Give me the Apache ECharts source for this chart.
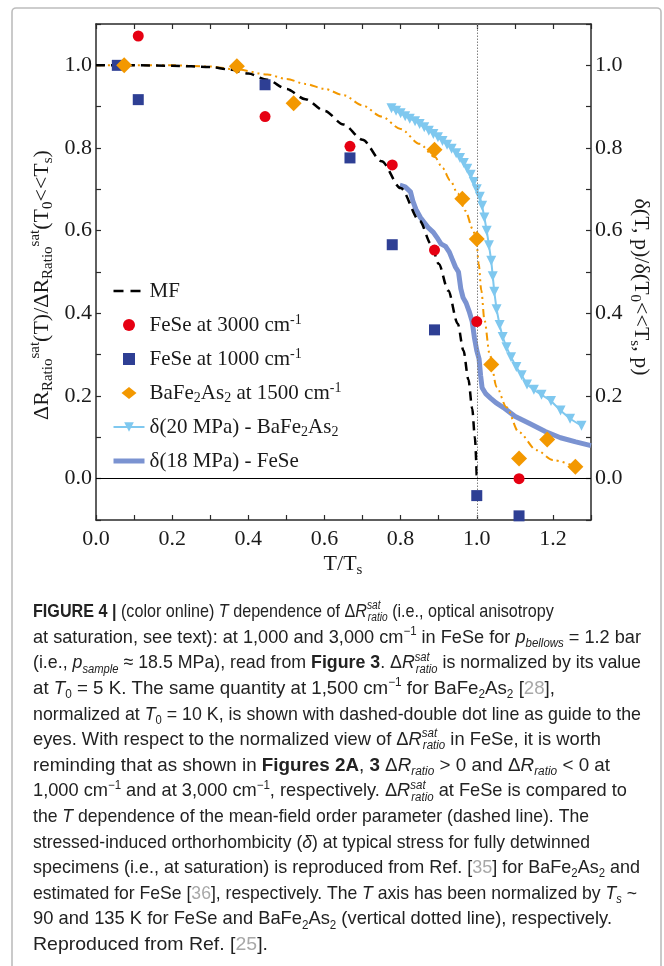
<!DOCTYPE html>
<html>
<head>
<meta charset="utf-8">
<script src="https://cdn.jsdelivr.net/npm/echarts@6/dist/echarts.min.js"></script>
<style>
  html, body { margin: 0; padding: 0; background: #fff; }
  #chart { width: 664px; height: 966px; }
</style>
</head>
<body>
<div id="chart"></div>
<script>
// ---- data (T/Ts on x, normalized quantities on y) ----
const xTickLabels = [0.0, 0.2, 0.4, 0.6, 0.8, 1.0, 1.2];
const yTickLabels = [0.0, 0.2, 0.4, 0.6, 0.8, 1.0];

// mean-field order parameter
const mfCurve = [[0,1.0],[0.1,1.0],[0.2,0.999],[0.3,0.996],[0.35,0.99],[0.4,0.98],[0.45,0.965],
  [0.5,0.943],[0.55,0.918],[0.6,0.89],[0.65,0.857],[0.7,0.82],[0.75,0.768],[0.8,0.703],
  [0.85,0.624],[0.88,0.568],[0.9,0.52],[0.925,0.455],[0.95,0.375],[0.965,0.31],[0.978,0.24],
  [0.988,0.17],[0.995,0.10],[1.0,0.0]];

const fese3000 = [[0.111,1.071],[0.444,0.876],[0.667,0.804],[0.778,0.759],[0.889,0.553],[1.0,0.38],[1.111,0.0]];
const fese1000 = [[0.056,1.0],[0.111,0.917],[0.444,0.953],[0.667,0.776],[0.778,0.566],[0.889,0.36],[1.0,-0.041],[1.111,-0.09]];
const bafe1500 = [[0.074,1.0],[0.37,0.998],[0.519,0.908],[0.889,0.796],[0.962,0.677],[1.0,0.58],[1.038,0.276],[1.111,0.049],[1.185,0.095],[1.259,0.029]];

// guide to the eye through the BaFe2As2 points
const bafeGuide = [[0,1.0],[0.1,1.0],[0.2,1.0],[0.3,0.997],[0.37,0.99],[0.45,0.978],[0.5,0.967],
  [0.55,0.955],[0.6,0.943],[0.65,0.928],[0.7,0.903],[0.75,0.876],[0.8,0.846],[0.85,0.81],
  [0.89,0.778],[0.91,0.752],[0.93,0.722],[0.95,0.69],[0.97,0.648],[0.99,0.603],[1.0,0.565],
  [1.005,0.52],[1.012,0.455],[1.02,0.385],[1.034,0.30],[1.052,0.222],[1.078,0.173],
  [1.11,0.113],[1.157,0.069],[1.2,0.045],[1.262,0.028]];

// orthorhombicity, BaFe2As2 at 20 MPa
const delta20Bafe = [[0.776,0.896],[0.788,0.890],[0.80,0.884],[0.812,0.877],[0.824,0.871],
  [0.838,0.865],[0.85,0.858],[0.862,0.850],[0.874,0.842],[0.886,0.834],[0.898,0.826],
  [0.91,0.817],[0.922,0.808],[0.934,0.798],[0.946,0.787],[0.956,0.776],[0.966,0.764],
  [0.975,0.750],[0.984,0.735],[0.992,0.718],[1.0,0.70],[1.008,0.682],[1.014,0.66],
  [1.02,0.632],[1.026,0.60],[1.032,0.565],[1.038,0.527],[1.042,0.49],[1.046,0.452],
  [1.052,0.41],[1.06,0.372],[1.068,0.343],[1.078,0.318],[1.09,0.294],[1.104,0.27],
  [1.118,0.25],[1.132,0.228],[1.15,0.215],[1.17,0.203],[1.195,0.188],[1.22,0.165],
  [1.245,0.145],[1.275,0.128]];

// orthorhombicity, FeSe at 18 MPa
const delta18Fese = [[0.798,0.71],[0.812,0.706],[0.826,0.694],[0.832,0.672],[0.84,0.652],
  [0.852,0.632],[0.862,0.62],[0.874,0.606],[0.886,0.596],[0.898,0.58],[0.906,0.568],
  [0.918,0.562],[0.928,0.548],[0.936,0.53],[0.944,0.512],[0.952,0.50],[0.958,0.46],
  [0.964,0.438],[0.972,0.425],[0.98,0.405],[0.988,0.38],[0.994,0.34],[1.0,0.31],
  [1.006,0.29],[1.01,0.25],[1.014,0.22],[1.024,0.205],[1.036,0.195],[1.05,0.184],
  [1.07,0.172],[1.1,0.151],[1.14,0.133],[1.18,0.114],[1.22,0.099],[1.26,0.089],[1.3,0.08]];

const tsPosition = 1.0;
const zeroLevel = 0.0;

const legendNames = ['MF', 'FeSe at 3000 cm-1', 'FeSe at 1000 cm-1', 'BaFe2As2 at 1500 cm-1',
  'δ(20 MPa) - BaFe2As2', 'δ(18 MPa) - FeSe'];
const legendRich = {
  'MF': 'MF',
  'FeSe at 3000 cm-1': 'FeSe at 3000 cm{sup|-1}',
  'FeSe at 1000 cm-1': 'FeSe at 1000 cm{sup|-1}',
  'BaFe2As2 at 1500 cm-1': 'BaFe{sub|2}As{sub|2} at 1500 cm{sup|-1}',
  'δ(20 MPa) - BaFe2As2': 'δ(20 MPa) - BaFe{sub|2}As{sub|2}',
  'δ(18 MPa) - FeSe': 'δ(18 MPa) - FeSe'
};
// legend icons: lines without markers, square and diamond drawn at their own aspect
const legendIcons = {
  'MF': { itemStyle: { opacity: 0 }, lineStyle: { width: 2.5, type: [10, 7] } },
  'FeSe at 1000 cm-1': { icon: 'path://M0,0H11V11H0Z' },
  'BaFe2As2 at 1500 cm-1': { icon: 'path://M0,6L7.5,0L15,6L7.5,12Z' },
  'δ(18 MPa) - FeSe': { itemStyle: { opacity: 0 }, lineStyle: { width: 5 } }
};

const captionLines = [
  '{b|FIGURE 4 |} (color online) {i|T} dependence of Δ{i|R}{isw|sat}{isub|ratio} (i.e., optical anisotropy',
  'at saturation, see text): at 1,000 and 3,000 cm{sup|−1} in FeSe for {i|p}{isub|bellows} = 1.2 bar',
  '(i.e., {i|p}{isub|sample} ≈ 18.5 MPa), read from {b|Figure 3}. Δ{i|R}{isw|sat}{isub|ratio} is normalized by its value',
  'at {i|T}{sub|0} = 5 K. The same quantity at 1,500 cm{sup|−1} for BaFe{sub|2}As{sub|2} [{ref|28}],',
  'normalized at {i|T}{sub|0} = 10 K, is shown with dashed-double dot line as guide to the',
  'eyes. With respect to the normalized view of Δ{i|R}{isw|sat}{isub|ratio} in FeSe, it is worth',
  'reminding that as shown in {b|Figures 2A}, {b|3} Δ{i|R}{isub|ratio} > 0 and Δ{i|R}{isub|ratio} < 0 at',
  '1,000 cm{sup|−1} and at 3,000 cm{sup|−1}, respectively. Δ{i|R}{isw|sat}{isub|ratio} at FeSe is compared to',
  'the {i|T} dependence of the mean-field order parameter (dashed line). The',
  'stressed-induced orthorhombicity ({i|δ}) at typical stress for fully detwinned',
  'specimens (i.e., at saturation) is reproduced from Ref. [{ref|35}] for BaFe{sub|2}As{sub|2} and',
  'estimated for FeSe [{ref|36}], respectively. The {i|T} axis has been normalized by {i|T}{isub|s} ~',
  '90 and 135 K for FeSe and BaFe{sub|2}As{sub|2} (vertical dotted line), respectively.',
  'Reproduced from Ref. [{ref|25}].'
];
// right edge of each caption line
const captionLineEnds = [541, 641, 641, 555, 641, 601, 610, 627, 589, 590, 640, 637, 612, 268];

// ---- styling ----
const SERIF = 'Liberation Serif';
const SANS = 'Liberation Sans';
const INK = '#1a1a1a';
const CAP_INK = '#222';
const AXIS = '#2a2a2a';

function tok(size, extra) {
  return Object.assign({ fontFamily: SERIF, fontSize: size, fill: INK, fontStyle: 'normal', fontWeight: 'normal' }, extra || {});
}
const titleRich = {
  sub: tok(15, { verticalAlign: 'bottom', lineHeight: 15 }),
  sup: tok(15, { verticalAlign: 'top', lineHeight: 15 })
};

const CAP_SIZE = 19;
const CAP_SMALL = 12;
const CAP_LEFT = 33;
function cap(extra) {
  return Object.assign({ fontFamily: SANS, fontSize: CAP_SIZE, fill: CAP_INK, fontStyle: 'normal', fontWeight: 'normal', lineHeight: 24 }, extra || {});
}
const capRich = {
  b: cap({ fontWeight: 'bold' }),
  i: cap({ fontStyle: 'italic' }),
  sub: cap({ fontSize: CAP_SMALL, lineHeight: 14, verticalAlign: 'bottom' }),
  isub: cap({ fontSize: CAP_SMALL, lineHeight: 14, verticalAlign: 'bottom', fontStyle: 'italic' }),
  sup: cap({ fontSize: CAP_SMALL, lineHeight: 14, verticalAlign: 'top' }),
  isw: cap({ fontSize: CAP_SMALL, lineHeight: 14, verticalAlign: 'top', fontStyle: 'italic', width: 1 }),
  ref: cap({ fill: '#a8a8a8' })
};

function valueAxis(extra) {
  return Object.assign({
    type: 'value',
    axisLine: { onZero: false, lineStyle: { color: AXIS, width: 1.5 } },
    axisTick: { inside: true, length: 5, lineStyle: { color: AXIS, width: 1.2 } },
    splitLine: { show: false },
    axisLabel: { show: false }
  }, extra);
}
const tickLabel = (values, margin) => ({
  customValues: values,
  formatter: v => v.toFixed(1),
  fontFamily: SERIF, fontSize: 22, color: INK, margin: margin
});

const chart = echarts.init(document.getElementById('chart'), null, { renderer: 'canvas' });

const graphics = [
  { type: 'rect', shape: { x: 12, y: 8, width: 649, height: 990, r: 4 },
    style: { fill: 'none', stroke: '#bdbdbd', lineWidth: 1.6 }, silent: true },
  { type: 'text', x: 42, y: 285, rotation: Math.PI / 2,
    style: { text: 'ΔR{sub|Ratio}{sup|sat}(T)/ΔR{sub|Ratio}{sup|sat}(T{sub|0}<<T{sub|s})',
      fontFamily: SERIF, fontSize: 22, fill: INK, align: 'center', verticalAlign: 'middle',
      lineHeight: 28, rich: titleRich } },
  { type: 'text', x: 641, y: 287, rotation: -Math.PI / 2,
    style: { text: 'δ(T, p)/δ(T{sub|0}<<T{sub|s}, p)',
      fontFamily: SERIF, fontSize: 22, fill: INK, align: 'center', verticalAlign: 'middle',
      lineHeight: 28, rich: titleRich } },
  { type: 'text', x: 343, y: 564,
    style: { text: 'T/T{sub|s}', fontFamily: SERIF, fontSize: 22, fill: INK,
      align: 'center', verticalAlign: 'middle', lineHeight: 28, rich: titleRich } }
];

// caption: each line is condensed horizontally towards its measured right edge
captionLines.forEach((line, i) => {
  const style = Object.assign(cap({ verticalAlign: 'middle' }), { text: line, rich: capRich });
  const probe = new echarts.graphic.Text({ style: style });
  const w = probe.getBoundingRect().width || 1;
  let sx = (captionLineEnds[i] - CAP_LEFT) / w;
  sx = Math.max(0.85, Math.min(1.05, sx));
  graphics.push({ type: 'text', x: CAP_LEFT, y: 612 + i * 25.6, scaleX: sx, style: style });
});

const option = {
  animation: false,
  backgroundColor: '#fff',
  grid: { left: 96, right: 73, top: 24, bottom: 446 },
  xAxis: [
    valueAxis({ min: 0, max: 1.3, interval: 0.1, position: 'bottom',
      axisLabel: tickLabel(xTickLabels, 8) }),
    valueAxis({ min: 0, max: 1.3, interval: 0.1, position: 'top' })
  ],
  yAxis: [
    valueAxis({ min: -0.1, max: 1.1, interval: 0.1, position: 'left',
      axisLabel: tickLabel(yTickLabels, 4) }),
    valueAxis({ min: -0.1, max: 1.1, interval: 0.1, position: 'right',
      axisLabel: tickLabel(yTickLabels, 4) })
  ],
  legend: {
    data: legendNames.map(n => Object.assign({ name: n }, legendIcons[n] || {})),
    orient: 'vertical',
    left: 106, top: 274,
    itemWidth: 31, itemHeight: 12, itemGap: 10,
    symbolKeepAspect: true,
    selectedMode: false,
    formatter: name => legendRich[name],
    textStyle: {
      fontFamily: SERIF, fontSize: 21, color: INK, lineHeight: 24,
      rich: {
        sub: { fontFamily: SERIF, fontSize: 14, color: INK, verticalAlign: 'bottom', lineHeight: 14 },
        sup: { fontFamily: SERIF, fontSize: 14, color: INK, verticalAlign: 'top', lineHeight: 14 }
      }
    }
  },
  series: [
    {
      name: 'δ(18 MPa) - FeSe', type: 'line', data: delta18Fese, symbol: 'none', z: 2,
      lineStyle: { color: '#7b93d1', width: 5, join: 'round' },
      itemStyle: { color: '#7b93d1' }
    },
    {
      name: 'δ(20 MPa) - BaFe2As2', type: 'line', data: delta20Bafe, z: 3,
      symbol: 'triangle', symbolRotate: 180, symbolSize: 10, showAllSymbol: true,
      lineStyle: { color: '#7fc8ef', width: 2 },
      itemStyle: { color: '#7fc8ef' }
    },
    {
      name: 'guide', type: 'line', data: bafeGuide, symbol: 'none', z: 2,
      smooth: 0.3, smoothMonotone: 'x',
      lineStyle: { color: '#f39800', width: 2, type: [8, 4, 2, 4, 2, 4] }
    },
    {
      name: 'MF', type: 'line', data: mfCurve, symbol: 'none', z: 2,
      smooth: 0.3, smoothMonotone: 'x',
      lineStyle: { color: '#000', width: 2.5, type: [9, 6] },
      itemStyle: { color: '#000' },
      markLine: {
        silent: true, symbol: ['none', 'none'], label: { show: false },
        data: [
          { yAxis: zeroLevel, lineStyle: { color: '#000', width: 1.2, type: 'solid' } },
          { xAxis: tsPosition, lineStyle: { color: '#808080', width: 1, type: [1.5, 1.5] } }
        ]
      }
    },
    {
      name: 'FeSe at 3000 cm-1', type: 'scatter', data: fese3000, z: 6,
      symbol: 'circle', symbolSize: 11, itemStyle: { color: '#e60012', opacity: 1 }
    },
    {
      name: 'FeSe at 1000 cm-1', type: 'scatter', data: fese1000, z: 6,
      symbol: 'rect', symbolSize: 11, itemStyle: { color: '#2e3f94', opacity: 1 }
    },
    {
      name: 'BaFe2As2 at 1500 cm-1', type: 'scatter', data: bafe1500, z: 6,
      symbol: 'diamond', symbolSize: 16, itemStyle: { color: '#f39800', opacity: 1 }
    }
  ],
  graphic: graphics
};
chart.setOption(option);
</script>
</body>
</html>
